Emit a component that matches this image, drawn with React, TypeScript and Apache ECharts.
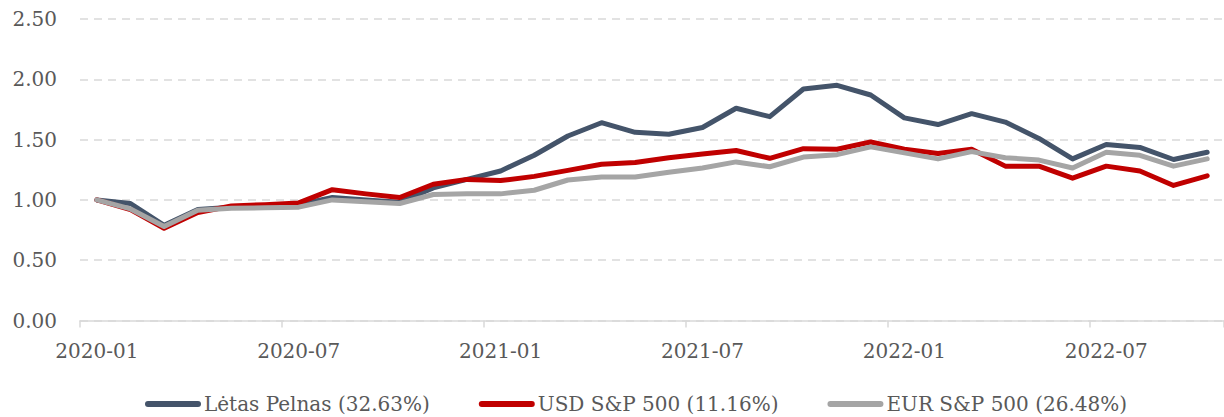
import React, { useEffect, useRef } from "react";
import * as echarts from "echarts";

const months: string[] = [
  "2020-01", "2020-02", "2020-03", "2020-04", "2020-05", "2020-06",
  "2020-07", "2020-08", "2020-09", "2020-10", "2020-11", "2020-12",
  "2021-01", "2021-02", "2021-03", "2021-04", "2021-05", "2021-06",
  "2021-07", "2021-08", "2021-09", "2021-10", "2021-11", "2021-12",
  "2022-01", "2022-02", "2022-03", "2022-04", "2022-05", "2022-06",
  "2022-07", "2022-08", "2022-09", "2022-10",
];

const letasPelnas: number[] = [
  1.0, 0.97, 0.79, 0.92, 0.94, 0.95, 0.96, 1.02, 1.0, 0.98, 1.1, 1.17,
  1.24, 1.37, 1.53, 1.64, 1.56, 1.545, 1.6, 1.76, 1.69, 1.92, 1.95, 1.87,
  1.68, 1.625, 1.715, 1.645, 1.51, 1.34, 1.46, 1.435, 1.335, 1.395,
];

const usdSp500: number[] = [
  1.0, 0.92, 0.765, 0.895, 0.95, 0.96, 0.975, 1.085, 1.05, 1.02, 1.13, 1.17,
  1.16, 1.195, 1.245, 1.295, 1.31, 1.35, 1.38, 1.41, 1.345, 1.425, 1.42, 1.48,
  1.42, 1.385, 1.42, 1.28, 1.28, 1.18, 1.28, 1.24, 1.12, 1.2,
];

const eurSp500: number[] = [
  1.0, 0.925, 0.78, 0.915, 0.93, 0.935, 0.94, 1.0, 0.985, 0.97, 1.045, 1.05,
  1.05, 1.08, 1.165, 1.19, 1.19, 1.23, 1.265, 1.315, 1.275, 1.355, 1.375, 1.44,
  1.39, 1.34, 1.4, 1.35, 1.33, 1.265, 1.395, 1.37, 1.28, 1.34,
];

const seriesNames: string[] = [
  "Lėtas Pelnas (32.63%)",
  "USD S&P 500 (11.16%)",
  "EUR S&P 500 (26.48%)",
];

const FONT = "'DejaVu Serif', serif";
const TEXT = "#595959";
const GRID = "#D9D9D9";

export default function App() {
  const ref = useRef<HTMLDivElement>(null);
  useEffect(() => {
    document.body.style.margin = "0";
    if (!ref.current) return;
    const chart = echarts.init(ref.current, undefined, { renderer: "svg" });
    const mk = (name: string, data: number[], color: string) => ({
      name,
      type: "line",
      data,
      symbol: "none",
      smooth: false,
      lineStyle: { color, width: 5, cap: "round", join: "round" },
      itemStyle: { color },
    });
    chart.setOption({
      animation: false,
      textStyle: { fontFamily: FONT },
      grid: { left: 80, right: -11, top: 19, height: 301.5 },
      xAxis: {
        type: "category",
        data: months,
        boundaryGap: true,
        axisLine: { show: true, lineStyle: { color: GRID, width: 1.5 } },
        axisTick: { show: true, interval: 5, length: 7, lineStyle: { color: GRID, width: 1.5 } },
        axisLabel: { interval: 5, color: TEXT, fontFamily: FONT, fontSize: 20, margin: 20 },
        splitLine: { show: false },
      },
      yAxis: {
        type: "value",
        min: 0,
        max: 2.5,
        interval: 0.5,
        axisLine: { show: false },
        axisTick: { show: false },
        axisLabel: {
          color: TEXT,
          fontFamily: FONT,
          fontSize: 20,
          margin: 23,
          formatter: (v: number) => v.toFixed(2),
        },
        splitLine: { show: true, lineStyle: { color: GRID, width: 1.5, type: [8, 6] } },
      },
      legend: {
        left: 140,
        top: 389,
        itemWidth: 56,
        itemHeight: 6,
        itemGap: 49,
        icon: "path://M3,0 L53,0 A3,3 0 0 1 53,6 L3,6 A3,3 0 0 1 3,0 Z",
        textStyle: { color: TEXT, fontFamily: FONT, fontSize: 20, padding: [0, 0, 0, -2] },
        data: seriesNames,
      },
      series: [
        mk(seriesNames[0], letasPelnas, "#44546A"),
        mk(seriesNames[1], usdSp500, "#C00000"),
        mk(seriesNames[2], eurSp500, "#A5A5A5"),
      ],
    });
    return () => chart.dispose();
  }, []);
  return <div ref={ref} style={{ width: 1224, height: 417, position: "absolute", left: 0, top: 0 }} />;
}
